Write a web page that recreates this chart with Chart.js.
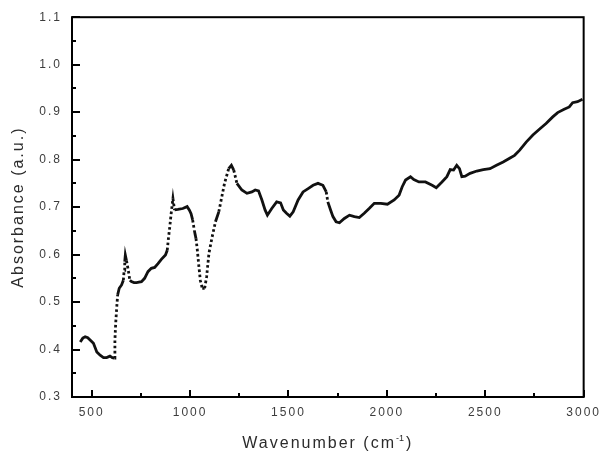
<!DOCTYPE html>
<html>
<head>
<meta charset="utf-8">
<script src="https://cdn.jsdelivr.net/npm/chart.js@4/dist/chart.umd.min.js"></script>
<style>
  html, body { margin: 0; padding: 0; background: #ffffff; }
  canvas { display: block; }
</style>
</head>
<body>
<canvas id="spectrum" width="605" height="452"></canvas>
<script>
// FTIR absorbance spectrum
const wavenumbers = [
  442, 455, 467, 480, 492, 509, 526, 543, 560, 576, 593, 605, 615,
  618, 622, 627, 632, 640, 652, 661, 665, 668, 671, 677, 686, 694,
  702, 715, 728, 740, 753, 769, 786, 803, 820, 837, 854, 875, 884,
  890, 897, 904, 913, 921, 938, 963, 985, 996, 1005, 1013, 1022, 1030,
  1037, 1045, 1052, 1062, 1074, 1084, 1096, 1112, 1129, 1146, 1158, 1175,
  1196, 1210, 1222, 1238, 1263, 1289, 1314, 1331, 1348, 1365, 1381, 1393,
  1415, 1440, 1460, 1474, 1490, 1507, 1524, 1549, 1574, 1600, 1625, 1650,
  1675, 1692, 1700, 1714, 1726, 1742, 1759, 1784, 1810, 1835, 1860, 1885,
  1910, 1936, 1969, 2003, 2037, 2062, 2078, 2095, 2120, 2137, 2163, 2196,
  2230, 2251, 2280, 2305, 2322, 2339, 2355, 2369, 2381, 2398, 2423, 2457,
  2490, 2524, 2557, 2591, 2624, 2649, 2675, 2708, 2742, 2775, 2809, 2843,
  2868, 2901, 2927, 2944, 2969, 2994
];
const absorbance = [
  0.416, 0.424, 0.427, 0.425, 0.420, 0.413, 0.395, 0.388, 0.383, 0.383, 0.386, 0.383, 0.382,
  0.420, 0.455, 0.487, 0.515, 0.529, 0.536, 0.546, 0.567, 0.585, 0.599, 0.587, 0.567, 0.546,
  0.543, 0.541, 0.541, 0.542, 0.543, 0.550, 0.564, 0.571, 0.573, 0.581, 0.590, 0.599, 0.609,
  0.634, 0.659, 0.687, 0.718, 0.694, 0.695, 0.697, 0.701, 0.694, 0.686, 0.673, 0.650, 0.634,
  0.609, 0.574, 0.546, 0.529, 0.529, 0.553, 0.603, 0.637, 0.669, 0.690, 0.715, 0.750,
  0.781, 0.788, 0.778, 0.750, 0.736, 0.729, 0.732, 0.736, 0.734, 0.715, 0.694, 0.683,
  0.697, 0.711, 0.709, 0.694, 0.687, 0.681, 0.690, 0.715, 0.732, 0.739, 0.746, 0.750,
  0.746, 0.732, 0.711, 0.694, 0.680, 0.669, 0.667, 0.676, 0.683, 0.680, 0.678, 0.687,
  0.697, 0.708, 0.708, 0.706, 0.715, 0.725, 0.743, 0.757, 0.764, 0.758, 0.753, 0.753,
  0.746, 0.741, 0.753, 0.764, 0.779, 0.778, 0.788, 0.781, 0.764, 0.765, 0.771, 0.776,
  0.779, 0.781, 0.788, 0.795, 0.803, 0.809, 0.820, 0.837, 0.852, 0.864, 0.876, 0.890,
  0.899, 0.906, 0.911, 0.920, 0.922, 0.927
];

// axis ticks
const xMajorTicks = [500, 1000, 1500, 2000, 2500, 3000];
const xMinorTicks = [750, 1250, 1750, 2250, 2750];
const yTickLabels = ['0.3', '0.4', '0.5', '0.6', '0.7', '0.8', '0.9', '1.0', '1.1'];
const yMinorTicks = [0.35, 0.45, 0.55, 0.65, 0.75, 0.85, 0.95, 1.05];

const FONT = '"Liberation Sans", Arial, sans-serif';
const points = wavenumbers.map((w, i) => ({ x: w, y: absorbance[i] }));

// very steep stretches of the trace show the individual sample dots
const steepDash = ctx => {
  const dx = Math.abs(ctx.p1.x - ctx.p0.x);
  const dy = Math.abs(ctx.p1.y - ctx.p0.y);
  return dy > 3.5 * dx && dy > 8 ? [2.6, 2.6] : undefined;
};

// Box frame with inward-facing major/minor ticks
const frameAndTicks = {
  id: 'frameAndTicks',
  beforeDraw(chart) {
    chart.ctx.letterSpacing = '2px';
  },
  afterDatasetsDraw(chart) {
    const { ctx, chartArea: a, scales: { x, y } } = chart;
    ctx.save();
    ctx.strokeStyle = '#000';
    ctx.lineWidth = 2;
    ctx.lineCap = 'butt';
    ctx.setLineDash([]);
    ctx.beginPath();
    xMajorTicks.forEach(v => {
      const px = Math.round(x.getPixelForValue(v));
      ctx.moveTo(px, a.bottom); ctx.lineTo(px, a.bottom - 7);
    });
    xMinorTicks.forEach(v => {
      const px = Math.round(x.getPixelForValue(v));
      ctx.moveTo(px, a.bottom); ctx.lineTo(px, a.bottom - 4);
    });
    yTickLabels.forEach(t => {
      const py = Math.round(y.getPixelForValue(parseFloat(t)));
      ctx.moveTo(a.left, py); ctx.lineTo(a.left + 8, py);
    });
    yMinorTicks.forEach(v => {
      const py = Math.round(y.getPixelForValue(v));
      ctx.moveTo(a.left, py); ctx.lineTo(a.left + 4, py);
    });
    ctx.stroke();
    ctx.strokeRect(a.left, a.top, a.right - a.left, a.bottom - a.top);
    ctx.restore();
  },
  afterDraw(chart) {
    const { ctx, chartArea: a } = chart;
    ctx.save();
    ctx.letterSpacing = '2px';
    ctx.fillStyle = '#2b2b2b';
    ctx.font = '16px ' + FONT;

    // y-axis title
    ctx.save();
    ctx.translate(19, (a.top + a.bottom) / 2);
    ctx.rotate(-Math.PI / 2);
    ctx.textAlign = 'center';
    ctx.textBaseline = 'middle';
    ctx.fillText('Absorbance (a.u.)', 0, 0);
    ctx.restore();

    // x-axis title with superscript
    const main = 'Wavenumber (cm';
    const sup = '-1';
    const close = ')';
    ctx.textAlign = 'left';
    ctx.textBaseline = 'alphabetic';
    ctx.font = '16px ' + FONT;
    const wMain = ctx.measureText(main).width;
    const wClose = ctx.measureText(close).width;
    ctx.font = '9px ' + FONT;
    ctx.letterSpacing = '0px';
    const wSup = ctx.measureText(sup).width + 2;
    const total = wMain + wSup + wClose;
    let xPos = (a.left + a.right) / 2 - total / 2;
    const base = 448;
    ctx.font = '16px ' + FONT;
    ctx.letterSpacing = '2px';
    ctx.fillText(main, xPos, base);
    xPos += wMain;
    ctx.font = '9px ' + FONT;
    ctx.letterSpacing = '0px';
    ctx.fillText(sup, xPos, base - 7);
    xPos += wSup;
    ctx.font = '16px ' + FONT;
    ctx.letterSpacing = '2px';
    ctx.fillText(close, xPos, base);
    ctx.restore();
  }
};

new Chart(document.getElementById('spectrum'), {
  type: 'scatter',
  data: {
    datasets: [{
      data: points,
      showLine: true,
      borderColor: '#111111',
      backgroundColor: '#111111',
      borderWidth: 2.8,
      pointRadius: 0,
      tension: 0,
      segment: { borderDash: steepDash }
    }]
  },
  options: {
    responsive: false,
    animation: false,
    devicePixelRatio: 1,
    layout: { padding: { top: 17, right: 17, left: 0, bottom: 0 }, autoPadding: false },
    plugins: { legend: { display: false }, tooltip: { enabled: false } },
    scales: {
      x: {
        type: 'linear',
        position: 'bottom',
        min: 400,
        max: 3000,
        grid: { display: false, drawTicks: false },
        border: { display: false },
        afterBuildTicks: s => { s.ticks = xMajorTicks.map(v => ({ value: v })); },
        afterFit: s => { s.height = 55; },
        ticks: {
          autoSkip: false,
          maxRotation: 0,
          padding: 8,
          color: '#3c3c3c',
          font: { family: FONT, size: 12 },
          callback: v => String(v)
        }
      },
      y: {
        type: 'linear',
        position: 'left',
        min: 0.3,
        max: 1.1,
        grid: { display: false, drawTicks: false },
        border: { display: false },
        afterBuildTicks: s => { s.ticks = yTickLabels.map(t => ({ value: parseFloat(t) })); },
        afterFit: s => { s.width = 72; },
        ticks: {
          autoSkip: false,
          padding: 10,
          color: '#3c3c3c',
          font: { family: FONT, size: 12 },
          callback: v => Number(v).toFixed(1)
        }
      }
    }
  },
  plugins: [frameAndTicks]
});
</script>
</body>
</html>
